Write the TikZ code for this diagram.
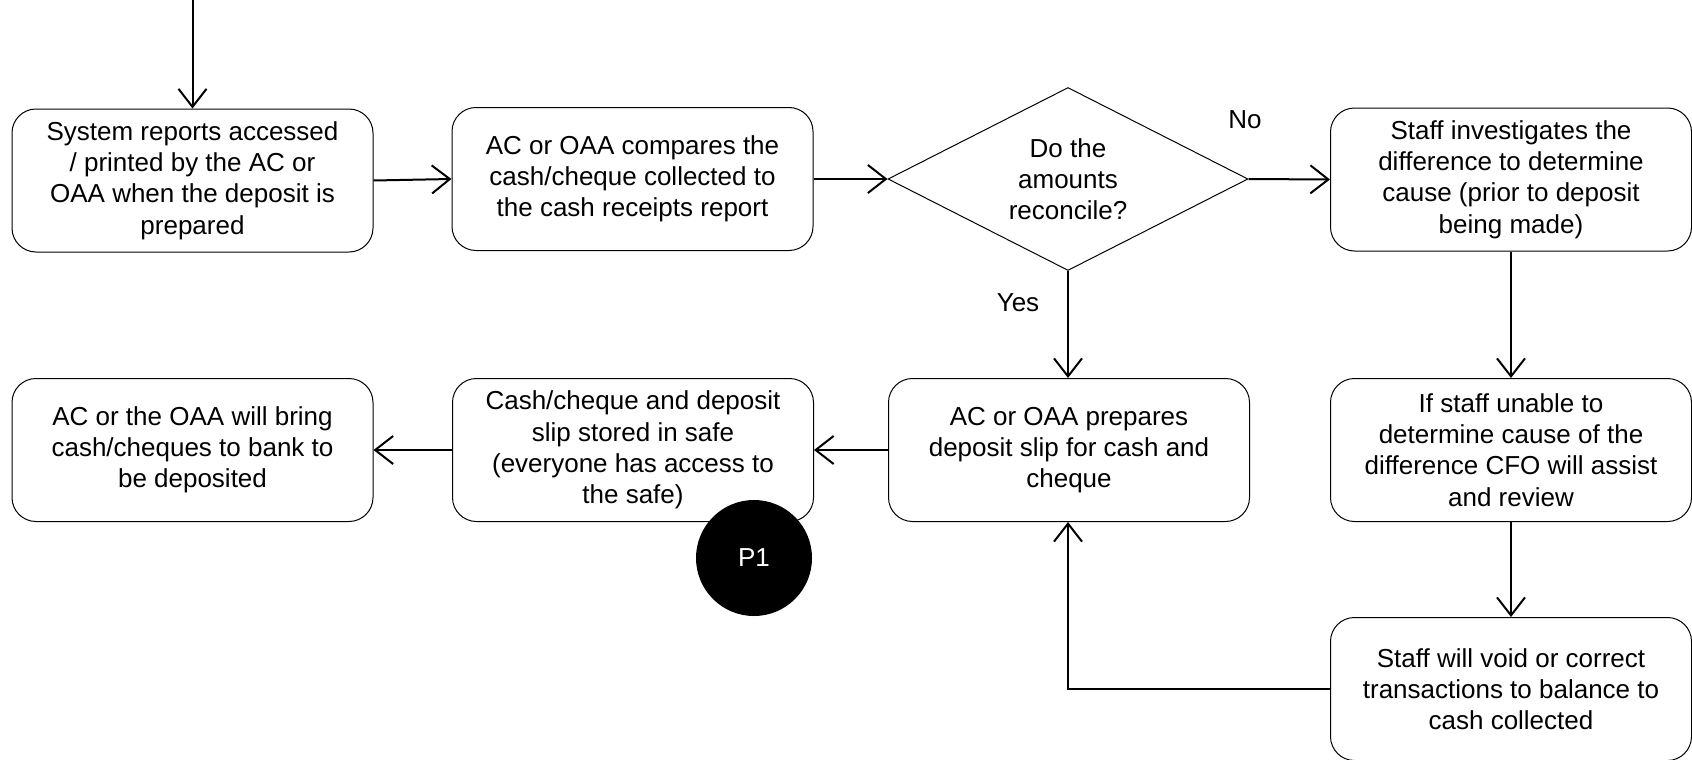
\documentclass[tikz,border=0pt]{standalone}
\usepackage{fontspec}
\setmainfont{Liberation Sans}
\usetikzlibrary{arrows.meta,shapes.geometric}
\begin{document}
\begin{tikzpicture}[x=0.5pt,y=-0.5pt,
  font=\fontsize{13}{15.6}\selectfont,
  procbox/.style={draw, line width=0.5pt, rounded corners=12pt, align=center,
    minimum width=180.5pt, minimum height=71.5pt, inner sep=2pt},
  decision/.style={draw, line width=0.5pt, diamond, aspect=2, inner sep=0pt,
    align=center, minimum width=180pt, minimum height=91.5pt},
  flow/.style={line width=1pt, -{Straight Barb[length=9pt,width=14pt,line width=1pt]}},
  marker/.style={circle, fill=black, text=white, minimum size=58pt, inner sep=0pt}
]
\useasboundingbox (0,0) rectangle (1692,760);

\node[procbox] (b1) at (192.5,180.5) {System reports accessed\\/ printed by the AC or\\OAA when the deposit is\\prepared};
\node[procbox] (b2) at (632.5,179) {AC or OAA compares the\\cash/cheque collected to\\the cash receipts report};
\node[decision] (dia) at (1068,179) {Do the\\amounts\\reconcile?};
\node[procbox] (b3) at (1511,179.5) {Staff investigates the\\difference to determine\\cause (prior to deposit\\being made)};

\node[procbox] (b4) at (192.5,450) {AC or the OAA will bring\\cash/cheques to bank to\\be deposited};
\node[procbox] (b5) at (633,450) {Cash/cheque and deposit\\slip stored in safe\\(everyone has access to\\the safe)};
\node[procbox] (b6) at (1069,450) {AC or OAA prepares\\deposit slip for cash and\\cheque};
\node[procbox] (b7) at (1511,450) {If staff unable to\\determine cause of the\\difference CFO will assist\\and review};
\node[procbox] (b8) at (1511,689) {Staff will void or correct\\transactions to balance to\\cash collected};

\node[marker] (p1) at (754,558) {P1};

\node (no) at (1245,120) {No};
\node (yes) at (1018,303) {Yes};

\coordinate (start) at (192.5,0);
\coordinate (bend) at (1068,689);

\draw[flow] (start) -- (b1.north);
\draw[flow] (b1.east) -- (b2.west);
\draw[flow] (b2.east) -- (dia.west);
\draw[flow] (dia.east) -- (b3.west);
\draw[flow] (dia.south) -- (dia.south |- b6.north);
\draw[flow] (b3.south) -- (b7.north);
\draw[flow] (b7.south) -- (b8.north);
\draw[flow] (b6.west) -- (b5.east);
\draw[flow] (b5.west) -- (b4.east);
\draw[flow] (b8.west) -- (bend) -- (bend |- b6.south);
\end{tikzpicture}
\end{document}
